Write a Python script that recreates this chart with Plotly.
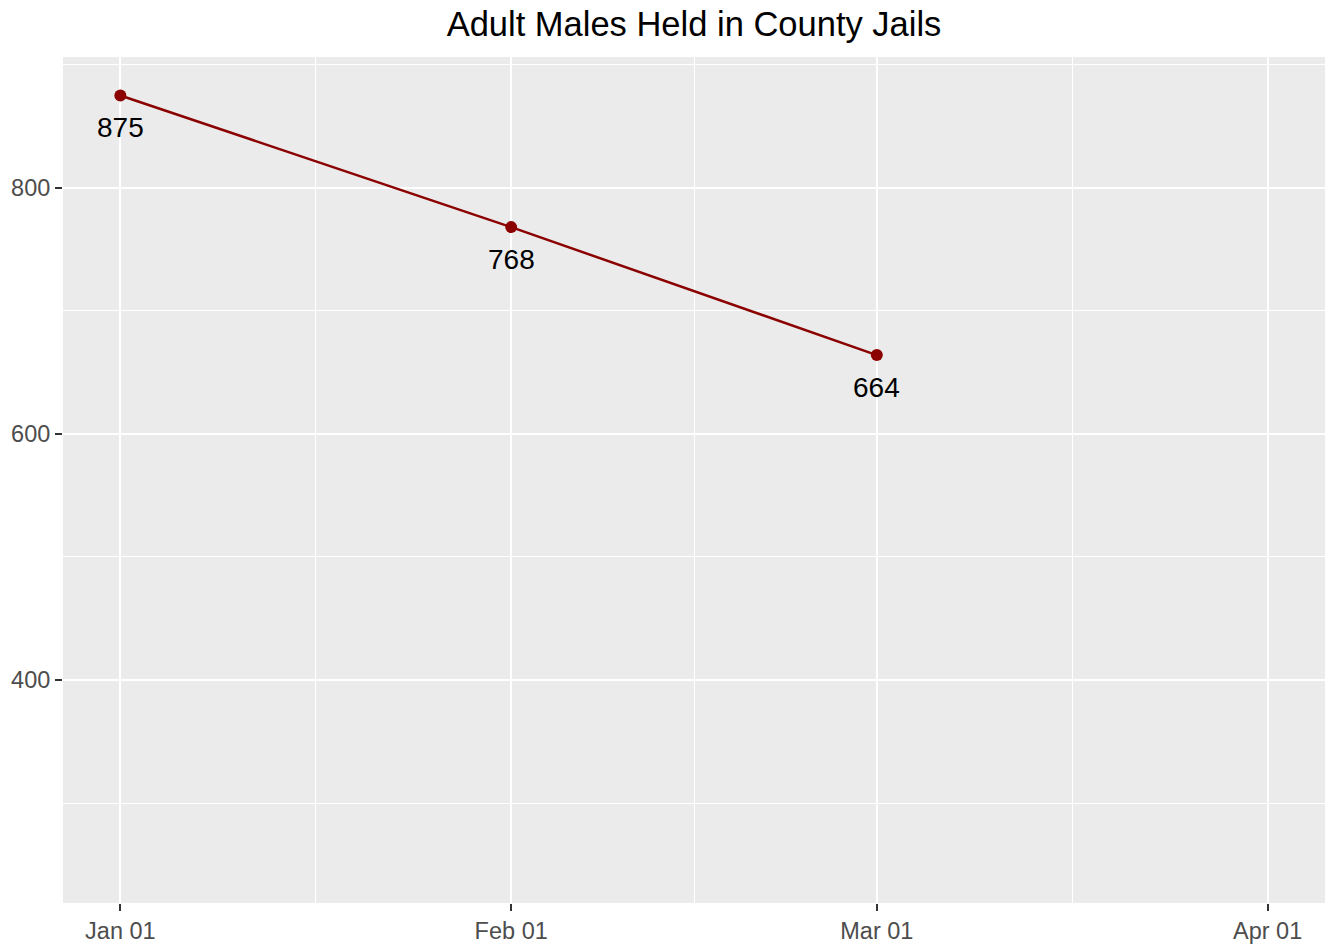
import plotly.graph_objects as go
import pandas as pd

# Data
dates = ["2020-01-01", "2020-02-01", "2020-03-01"]
values = [875, 768, 664]
x_tick_dates = ["2020-01-01", "2020-02-01", "2020-03-01", "2020-04-01"]
y_tick_vals = [400, 600, 800]
y_limits = [250, 875]
title_text = "Adult Males Held in County Jails"

FONT = "Liberation Sans, Arial, sans-serif"
LINE_COLOR = "#8B0000"

# ggplot-like expansion (5%)
xt = pd.to_datetime(x_tick_dates)
span = xt[-1] - xt[0]
x_range = [xt[0] - span * 0.05, xt[-1] + span * 0.05]
ys = y_limits[1] - y_limits[0]
y_range = [y_limits[0] - ys * 0.05, y_limits[1] + ys * 0.05]
x_minor = [xt[i] + (xt[i + 1] - xt[i]) / 2 for i in range(len(xt) - 1)]

fig = go.Figure()
fig.add_trace(go.Scatter(
    x=pd.to_datetime(dates), y=values, mode="lines+markers",
    line=dict(color=LINE_COLOR, width=2.5),
    marker=dict(color=LINE_COLOR, size=12),
    hoverinfo="skip", showlegend=False,
))

for d, v in zip(dates, values):
    fig.add_annotation(
        x=pd.to_datetime(d), y=v, text=str(v), showarrow=False,
        yshift=-32, yanchor="middle", xanchor="center",
        font=dict(family=FONT, size=28, color="black"),
    )

fig.update_layout(
    width=1328, height=947,
    paper_bgcolor="white", plot_bgcolor="#EBEBEB",
    margin=dict(l=63, r=3, t=57, b=39),
    title=dict(text=title_text, x=0.5, xanchor="center", xref="paper",
               y=1 - 24 / 947, yanchor="middle", yref="container",
               font=dict(family=FONT, size=34.5, color="black")),
    font=dict(family=FONT),
)

fig.update_xaxes(
    range=x_range, tickvals=xt, tickformat="%b %d",
    showgrid=True, gridcolor="white", gridwidth=2.2,
    minor=dict(tickvals=x_minor, showgrid=True, gridcolor="white", gridwidth=1.1, ticks=""),
    ticks="outside", ticklen=7, tickwidth=2, tickcolor="#333333",
    tickfont=dict(family=FONT, size=23.5, color="#4D4D4D"),
    showline=False, zeroline=False,
)
fig.update_yaxes(
    range=y_range, tickvals=y_tick_vals,
    showgrid=True, gridcolor="white", gridwidth=2.2,
    minor=dict(dtick=100, tick0=0, showgrid=True, gridcolor="white", gridwidth=1.1, ticks=""),
    ticks="outside", ticklen=7, tickwidth=2, tickcolor="#333333",
    tickfont=dict(family=FONT, size=23.5, color="#4D4D4D"),
    showline=False, zeroline=False,
)

fig.write_html(
    "out.html",
    config={"displayModeBar": False},
    post_script="document.body.style.margin='0';document.body.style.overflow='hidden';",
)
